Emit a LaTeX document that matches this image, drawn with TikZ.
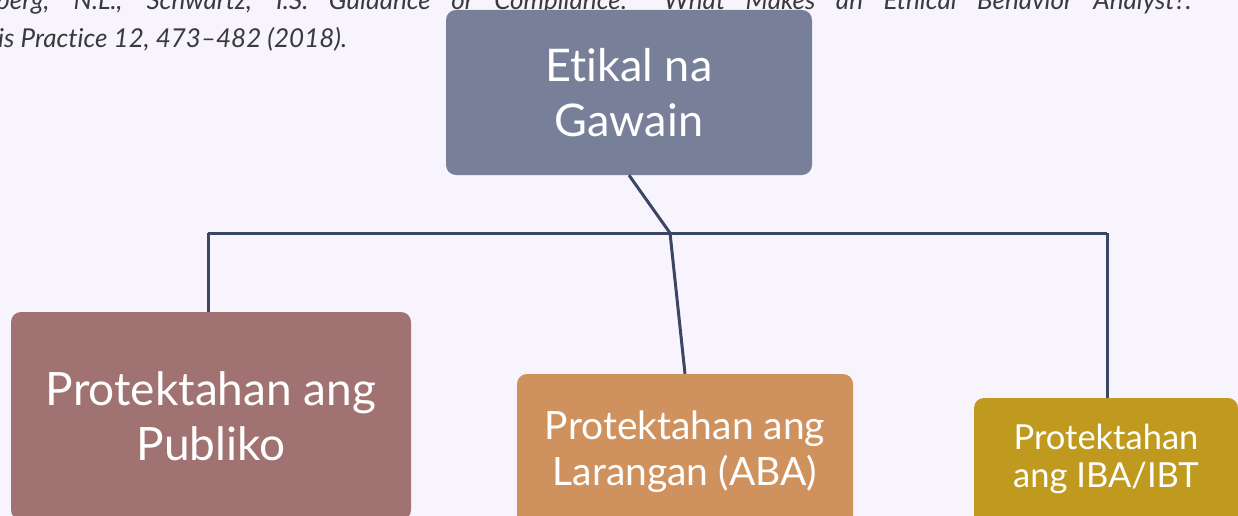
\documentclass[tikz,border=0pt]{standalone}
\usepackage{fontspec}
\setmainfont{Lato}[Ligatures={NoCommon,NoRare}]
\newfontfamily\citefont{Lato}[Ligatures={NoCommon,NoRare}]
\definecolor{bg}{HTML}{F8F4FE}
\definecolor{topc}{HTML}{788099}
\definecolor{leftc}{HTML}{A07272}
\definecolor{midc}{HTML}{CF915E}
\definecolor{rightc}{HTML}{C09A1E}
\definecolor{linec}{HTML}{3B4662}
\definecolor{citec}{HTML}{3A3A3A}
\begin{document}
\begin{tikzpicture}[x=1pt,y=-1pt,
  box/.style={rounded corners=10pt, text=white, align=center, inner sep=0pt},
  conn/.style={draw=linec, line width=3pt, line join=round},
  cite/.style={anchor=base west, inner sep=0pt, text=citec, font=\citefont\itshape\fontsize{26}{30}\selectfont}]
\clip (0,0) rectangle (1238,516);
\fill[bg] (0,0) rectangle (1238,516);
% citation lines (clipped)
\node[cite] (c1) at (-4,10) {\makebox[1262pt][s]{berg, N.L., Schwartz, I.S. Guidance or Compliance: What Makes an Ethical Behavior Analyst?. B}};
\node[cite] (c2) at (-2,48) {is Practice 12, 473–482 (2018).};
% boxes
\node[box, fill=topc, minimum width=366pt, minimum height=165pt,
  font=\fontsize{45}{55}\selectfont] (top) at (629,92.5) {Etikal na\\Gawain};
\node[box, fill=leftc, minimum width=400pt, minimum height=208pt,
  font=\fontsize{46}{55}\selectfont] (left) at (211,416) {Protektahan ang\\Publiko};
\node[box, fill=midc, minimum width=336pt, minimum height=156pt,
  font=\fontsize{39}{46}\selectfont] (mid) at (685,452) {Protektahan ang\\Larangan (ABA)};
\node[box, fill=rightc, minimum width=264pt, minimum height=240pt] (right) at (1106,518) {};
\node[text=white, align=center, inner sep=0pt, font=\fontsize{34.5}{38}\selectfont] (rtext) at (1106,459) {Protektahan\\ang IBA/IBT};
% connectors
\coordinate (J) at (670,233);
\coordinate (HL) at (208,233);
\coordinate (HR) at (1107,233);
\draw[conn] (top.south) -- (J);
\draw[conn] (HL) -- (HR);
\draw[conn] (J) -- (mid.north);
\draw[conn] (HL) -- (HL |- left.north);
\draw[conn] (HR) -- (HR |- right.north);
\end{tikzpicture}
\end{document}
